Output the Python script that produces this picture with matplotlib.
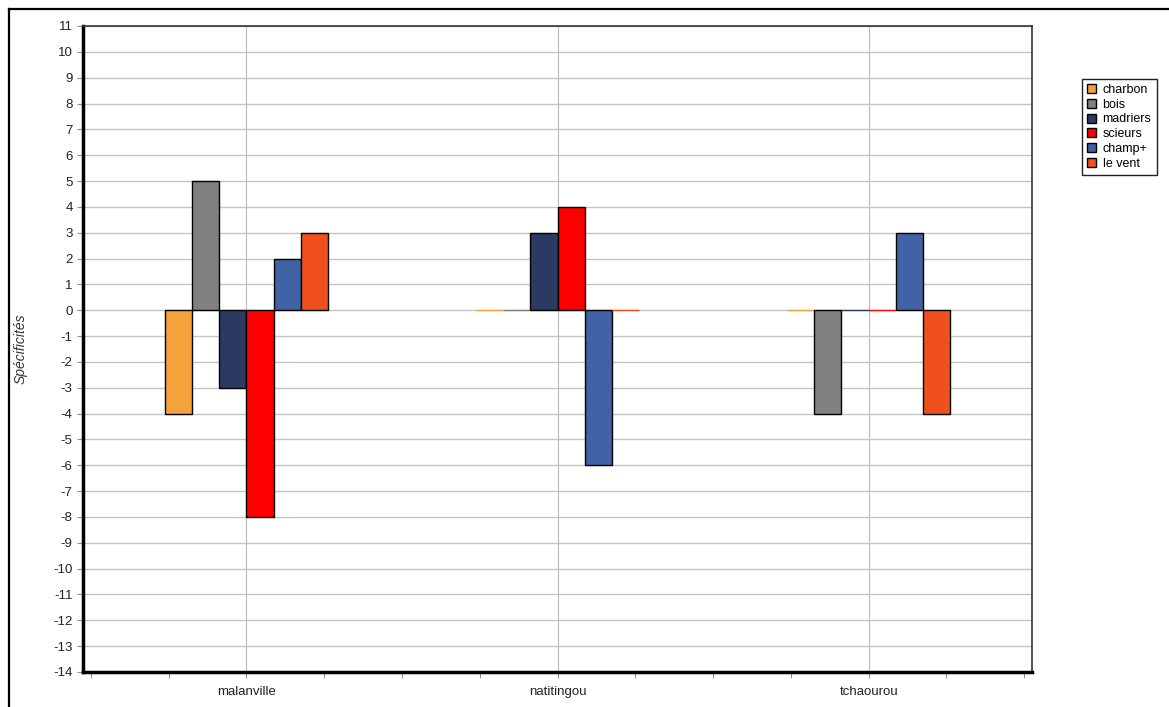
import numpy as np
import matplotlib.pyplot as plt
from matplotlib.lines import Line2D

# data
villes = ['malanville', 'natitingou', 'tchaourou']
series = ['charbon', 'bois', 'madriers', 'scieurs', 'champ+', 'le vent']
charbon = [-4, 0, 0]
bois = [5, 0, -4]
madriers = [-3, 3, 0]
scieurs = [-8, 4, 0]
champ = [2, -6, 3]
le_vent = [3, 0, -4]
values = [charbon, bois, madriers, scieurs, champ, le_vent]
colors = ['#F5A23C', '#808080', '#2A3A60', '#FF0000', '#4162A5', '#F0501E']

plt.rcParams['font.family'] = ['Liberation Sans', 'DejaVu Sans']
plt.rcParams['font.size'] = 9
plt.rcParams['axes.unicode_minus'] = False

fig = plt.figure(figsize=(11.69, 7.07), dpi=100)
W, H = 1169, 707
ax = fig.add_axes([83 / W, 1 - 672 / H, (1032 - 83) / W, (672 - 26) / H])

x = np.arange(len(villes))
width = 0.0873
for i, (name, vals) in enumerate(zip(series, values)):
    # zero bars show up only as a thin line of their own colour
    edges = ['black' if v != 0 else colors[i] for v in vals]
    ax.bar(x + (i - 2.5) * width, vals, width, color=colors[i],
           edgecolor=edges, linewidth=1, label=name, zorder=3)

ax.set_xlim(-0.525, 2.525)
ax.set_ylim(-14, 11)
ax.set_yticks(np.arange(-14, 12, 1))
ax.set_xticks(x)
ax.set_xticklabels(villes)
ax.set_xticks(np.arange(-0.5, 2.51, 0.25), minor=True)

ax.grid(True, axis='y', color='#c4c4c4', linewidth=1, zorder=0)
ax.grid(True, axis='x', which='major', color='#b8b8b8', linewidth=0.8, zorder=0)
ax.set_axisbelow(True)

ax.tick_params(axis='both', which='both', direction='out', color='#909090',
               labelcolor='#222222', length=4, width=0.8, labelsize=9.5)
ax.tick_params(axis='x', pad=6)

for side in ['left', 'bottom']:
    ax.spines[side].set_linewidth(2.5)
    ax.spines[side].set_color('black')
for side in ['top', 'right']:
    ax.spines[side].set_linewidth(1.2)
    ax.spines[side].set_color('#333333')

ax.set_ylabel('Spécificités', style='italic', color='#333333', fontsize=10)
ax.yaxis.set_label_coords(-0.058, 0.5)

leg = ax.legend(loc='upper left', bbox_to_anchor=(1082 / W, 1 - 79 / H),
                bbox_transform=fig.transFigure, borderaxespad=0,
                fancybox=False, edgecolor='#222222', framealpha=1,
                handlelength=0.75, handleheight=0.75, handletextpad=0.5,
                labelspacing=0.22, borderpad=0.4, fontsize=9)
leg.get_frame().set_linewidth(1)

# outer frame of the picture
fig.add_artist(Line2D([9 / W, 9 / W], [0, 1 - 9 / H], color='black', linewidth=1.6))
fig.add_artist(Line2D([9 / W, 1], [1 - 9 / H, 1 - 9 / H], color='black', linewidth=1.6))

fig.savefig('out.png', dpi=100)
